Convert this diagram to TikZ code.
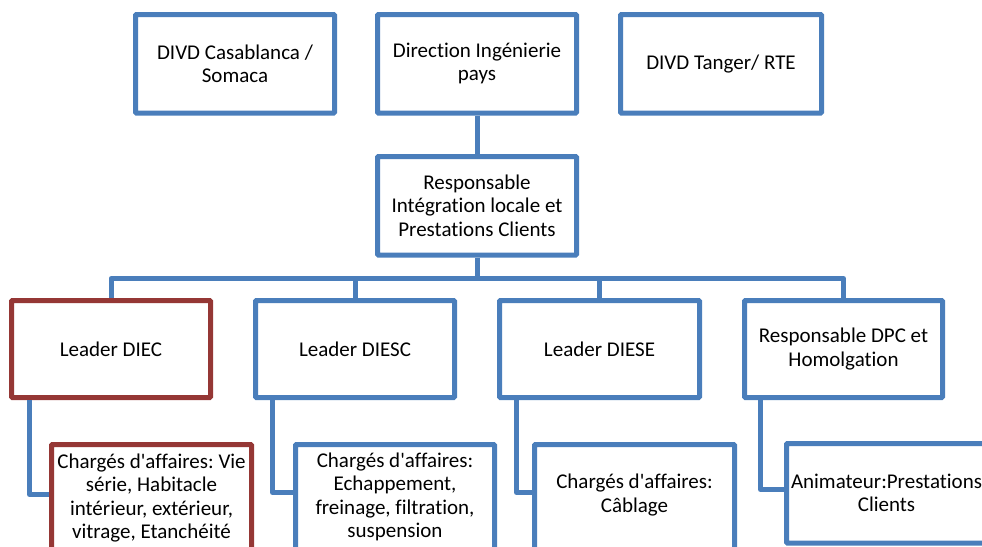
\documentclass[tikz,border=0pt]{standalone}
\usepackage{fontspec}
\setmainfont{Carlito}[Ligatures={TeX,NoCommon}]
\frenchspacing
\definecolor{ublue}{RGB}{74,126,187}
\definecolor{ured}{RGB}{149,55,53}
\newcommand{\apo}{\textquotesingle}
\begin{document}
\begin{tikzpicture}[x=1pt,y=-1pt,
  box/.style={draw=ublue,line width=5pt,rounded corners=1pt,inner sep=0pt,fill=white,
    align=center,font=\fontsize{21}{23.3}\selectfont},
  redbox/.style={box,draw=ured},
  txt/.style={inner sep=0pt,align=center,font=\fontsize{21}{23.3}\selectfont},
  conn/.style={draw=ublue,line width=5pt,line join=round}]
\useasboundingbox (0,0) rectangle (982,546);
\clip (0,0) rectangle (982,546);
% top row
\node[box,minimum width=199pt,minimum height=98.5pt] (casa) at (235,63.75) {DIVD Casablanca /\\Somaca};
\node[box,minimum width=199pt,minimum height=98.5pt] (dir) at (477,63.75) {Direction Ingénierie\\pays};
\node[box,minimum width=201pt,minimum height=98.5pt] (tanger) at (721,63.75) {DIVD Tanger/ RTE};
\node[box,minimum width=199pt,minimum height=98.5pt] (resp) at (477,205.75) {Responsable\\Intégration locale et\\Prestations Clients};
% leaders
\node[redbox,minimum width=199pt,minimum height=97pt] (diec) at (111,349) {Leader DIEC};
\node[box,minimum width=199pt,minimum height=97pt] (diesc) at (355,349) {Leader DIESC};
\node[box,minimum width=200pt,minimum height=97pt] (diese) at (599.5,349) {Leader DIESE};
\node[box,minimum width=198pt,minimum height=97pt] (dpc) at (843.5,349) {Responsable DPC et\\Homolgation};
% children boxes
\node[redbox,minimum width=200pt,minimum height=112pt] (c1) at (151.5,500.5) {};
\node[box,minimum width=199pt,minimum height=112pt] (c2) at (395,500.5) {};
\node[box,minimum width=200pt,minimum height=112pt] (c3) at (634.5,500.5) {};
\node[box,minimum width=200pt,minimum height=99.5pt] (c4) at (886.5,493.25) {};
% children texts
\node[txt] (t1) at (151.5,498) {Chargés d\apo affaires: Vie\\série, Habitacle\\intérieur, extérieur,\\vitrage, Etanchéité};
\node[txt] (t2) at (395,497) {Chargés d\apo affaires:\\Echappement,\\freinage, filtration,\\suspension};
\node[txt] (t3) at (634.5,495) {Chargés d\apo affaires:\\Câblage};
\node[txt] (t4) at (886.5,492.5) {Animateur:Prestations\\Clients};
% connectors
\coordinate (bus) at (477,278.5);
\draw[conn] (dir.south) -- (resp.north);
\draw[conn] (resp.south) -- (bus);
\draw[conn] (diec.north) |- (bus) -| (dpc.north);
\draw[conn] (diesc.north) -- (diesc.north |- bus);
\draw[conn] (diese.north) -- (diese.north |- bus);
\draw[conn] ([xshift=20.5pt]diec.south west) |- ([yshift=-52.5pt]c1.north west);
\draw[conn] ([xshift=19.5pt]diesc.south west) |- ([yshift=-50.5pt]c2.north west);
\draw[conn] ([xshift=19.5pt]diese.south west) |- ([yshift=-50.5pt]c3.north west);
\draw[conn] ([xshift=18.5pt]dpc.south west) |- ([yshift=-48.5pt]c4.north west);
\end{tikzpicture}
\end{document}
